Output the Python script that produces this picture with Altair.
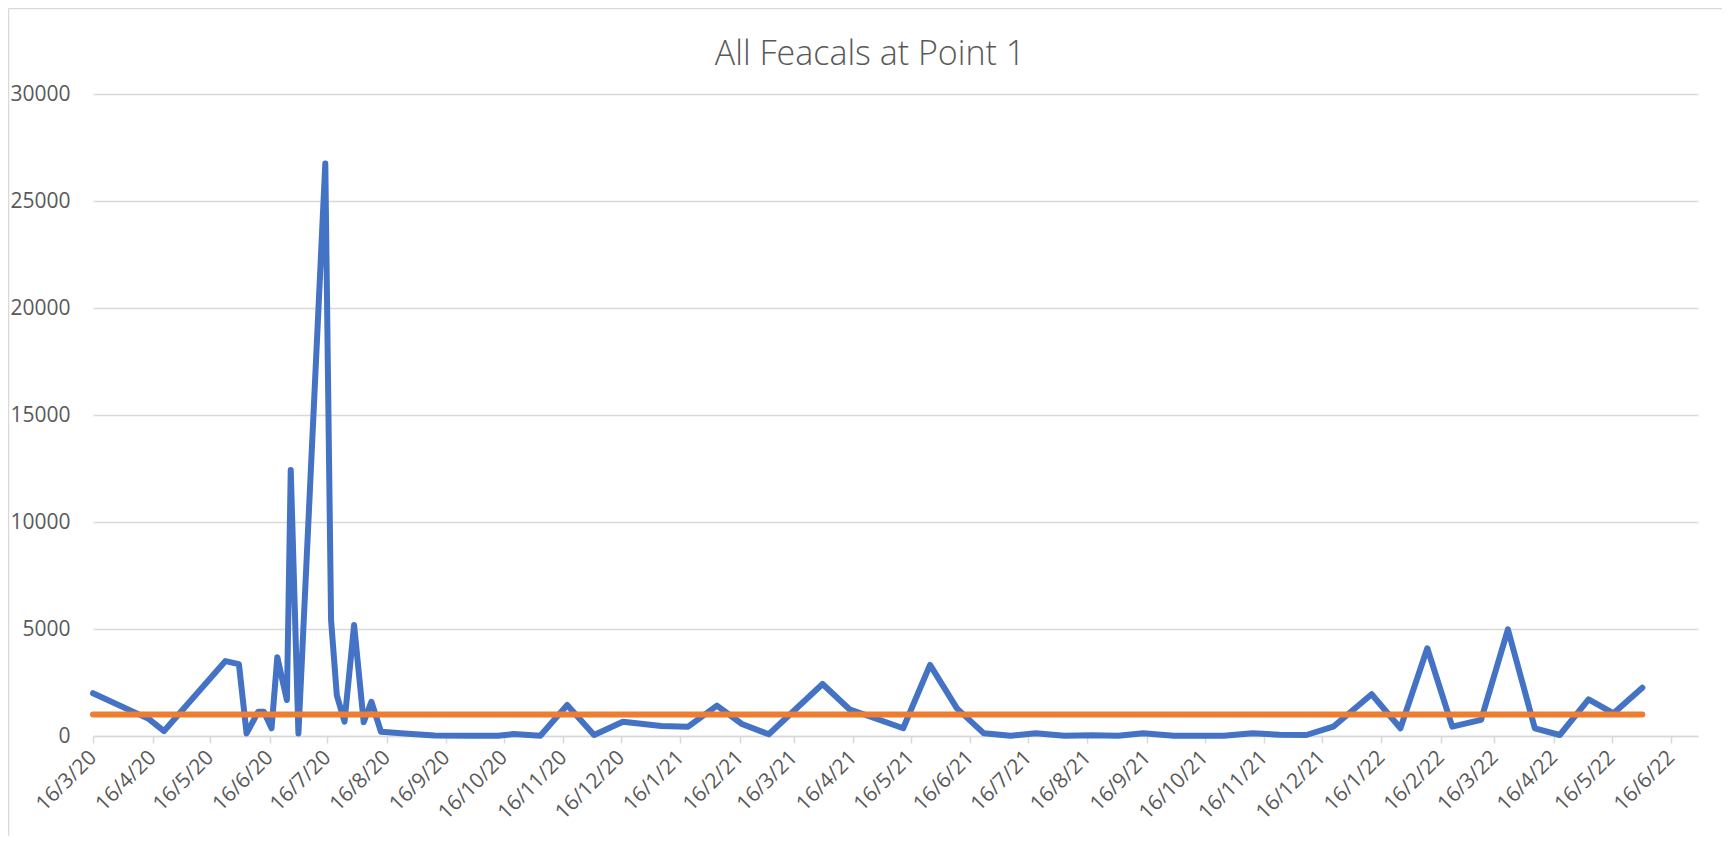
import altair as alt
import pandas as pd
from datetime import datetime

sample_dates = [
    "2020-03-16", "2020-04-14", "2020-04-22", "2020-05-24", "2020-05-31",
    "2020-06-04", "2020-06-10", "2020-06-13", "2020-06-17", "2020-06-20",
    "2020-06-25", "2020-06-27", "2020-07-01", "2020-07-15", "2020-07-18",
    "2020-07-21", "2020-07-25", "2020-07-30", "2020-08-04", "2020-08-08",
    "2020-08-13", "2020-08-27", "2020-09-10", "2020-09-28", "2020-10-13",
    "2020-10-21", "2020-11-04", "2020-11-18", "2020-12-02", "2020-12-17",
    "2021-01-06", "2021-01-20", "2021-02-04", "2021-02-17", "2021-03-03",
    "2021-03-31", "2021-04-14", "2021-05-12", "2021-05-26", "2021-06-09",
    "2021-06-23", "2021-07-07", "2021-07-20", "2021-08-04", "2021-08-18",
    "2021-09-01", "2021-09-14", "2021-09-30", "2021-10-13", "2021-10-26",
    "2021-11-10", "2021-11-24", "2021-12-08", "2021-12-22", "2022-01-11",
    "2022-01-26", "2022-02-09", "2022-02-22", "2022-03-09", "2022-03-23",
    "2022-04-06", "2022-04-19", "2022-05-04", "2022-05-17", "2022-06-01",
]
feacals = [
    2000, 800, 230, 3500, 3360,
    120, 1130, 1130, 360, 3680,
    1680, 12430, 120, 26750, 5420,
    1900, 670, 5190, 640, 1600,
    200, 100, 20, 10, 15,
    90, 14, 1450, 47, 670,
    470, 435, 1420, 560, 80,
    2430, 1250, 360, 3320, 1290,
    125, 14, 125, 14, 30,
    14, 125, 14, 14, 14,
    125, 60, 47, 435, 1950,
    360, 4100, 435, 750, 4980,
    360, 47, 1710, 1060, 2260,
]
limit_value = 1000
chart_title = "All Feacals at Point 1"

tick_dates = [
    "2020-03-16", "2020-04-16", "2020-05-16", "2020-06-16", "2020-07-16",
    "2020-08-16", "2020-09-16", "2020-10-16", "2020-11-16", "2020-12-16",
    "2021-01-16", "2021-02-16", "2021-03-16", "2021-04-16", "2021-05-16",
    "2021-06-16", "2021-07-16", "2021-08-16", "2021-09-16", "2021-10-16",
    "2021-11-16", "2021-12-16", "2022-01-16", "2022-02-16", "2022-03-16",
    "2022-04-16", "2022-05-16", "2022-06-16",
]
x_domain = ["2020-03-16", "2022-06-30"]
y_ticks = [0, 5000, 10000, 15000, 20000, 25000, 30000]


def dt(s):
    d = datetime.strptime(s, "%Y-%m-%d")
    return alt.DateTime(year=d.year, month=d.month, date=d.day)


df = pd.DataFrame({
    "date": [s + "T00:00:00" for s in sample_dates],
    "value": feacals,
    "limit": [limit_value] * len(sample_dates),
})

FONT = "Open Sans"
GREY = "#595959"
GRID = "#D9D9D9"

x_enc = alt.X(
    "date:T",
    title=None,
    scale=alt.Scale(domain=[dt(x_domain[0]), dt(x_domain[1])]),
    axis=alt.Axis(
        values=[dt(s) for s in tick_dates],
        format="%-d/%-m/%y",
        labelAngle=-45,
        labelAlign="right",
        labelBaseline="middle",
        labelFontSize=21,
        labelColor=GREY,
        labelFont=FONT,
        labelPadding=11,
        labelOverlap=False,
        labelFlush=False,
        grid=False,
        domainColor=GRID,
        domainWidth=1.5,
        tickColor=GRID,
        tickWidth=1.5,
        tickSize=7,
    ),
)
y_scale = alt.Scale(domain=[0, 30000], nice=False)

base = alt.Chart(df)

blue = base.mark_line(color="#4472C4", strokeWidth=6, strokeCap="round", strokeJoin="round").encode(
    x=x_enc,
    y=alt.Y(
        "value:Q",
        title=None,
        scale=y_scale,
        axis=alt.Axis(
            values=y_ticks,
            format="d",
            grid=True,
            gridColor=GRID,
            gridWidth=1.3,
            domain=False,
            ticks=False,
            labelFontSize=21,
            labelColor=GREY,
            labelFont=FONT,
            labelPadding=23,
        ),
    ),
)

orange = base.mark_line(color="#ED7D31", strokeWidth=6, strokeCap="round").encode(
    x="date:T",
    y=alt.Y("limit:Q", scale=y_scale),
)

frame_df = pd.DataFrame({"t": [chart_title]})
left_border = alt.Chart(frame_df).mark_rule(color=GRID, strokeWidth=1.5).encode(
    x=alt.value(-84.5), y=alt.value(-85.5), y2=alt.value(760)
)
top_border = alt.Chart(frame_df).mark_rule(color=GRID, strokeWidth=1.5).encode(
    x=alt.value(-84.5), x2=alt.value(1640), y=alt.value(-85.5)
)
title_text = alt.Chart(frame_df).mark_text(
    font=FONT, fontSize=34, fontWeight=300, color=GREY, align="center", baseline="alphabetic"
).encode(
    x=alt.value(777), y=alt.value(-29), text="t:N"
)

chart = alt.layer(left_border, top_border, title_text, blue, orange).properties(
    width=1605,
    height=642,
    padding={"left": 85, "top": 86, "right": 24, "bottom": 100},
    autosize=alt.AutoSizeParams(type="none"),
).configure_view(stroke=None)

chart.save("out.html", embed_options={"renderer": "svg", "actions": False})
